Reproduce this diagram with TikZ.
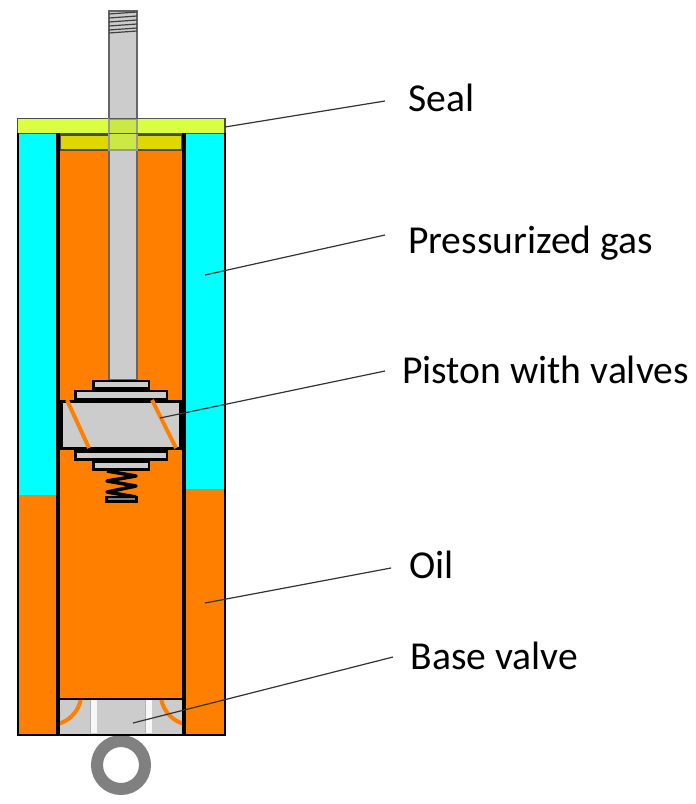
\documentclass[tikz,border=0pt]{standalone}
\usepackage{fontspec}
\setmainfont{Carlito}
\definecolor{oilcolor}{HTML}{FF8000}
\definecolor{gascolor}{HTML}{00FFFF}
\definecolor{sealcolor}{HTML}{D9FF40}
\definecolor{lipcolor}{HTML}{DFD800}
\definecolor{steelcolor}{HTML}{CCCCCC}
\definecolor{rodsealcolor}{HTML}{CBE845}
\definecolor{ringcolor}{HTML}{808080}

\begin{document}
\begin{tikzpicture}[
    x=1pt, y=-1pt, % One unit is one pixel of the reference
    plate/.style={draw=black, line width=2.5pt, fill=steelcolor},
    wall/.style={black, line width=3.5pt},
    leader/.style={black!80, line width=1.2pt},
    callout/.style={anchor=west, inner ysep=0pt, text height=30pt, text depth=6pt, font=\fontsize{39.6}{39.6}\selectfont}
]
\useasboundingbox (0, 0) rectangle (696, 804);

% Define the fluids
\fill[gascolor] (18, 133) rectangle (58, 495);
\fill[gascolor] (184, 133) rectangle (225, 489);
\fill[oilcolor] (18, 495) rectangle (58, 735);
\fill[oilcolor] (184, 489) rectangle (225, 735);
\fill[oilcolor] (59, 150) rectangle (183, 700);

% Define the seals
\filldraw[draw=black!70, line width=1.5pt, fill=sealcolor] (17.5, 118.5) rectangle (225, 133.5);
\filldraw[draw=black!70, line width=1.5pt, fill=lipcolor] (60, 135) rectangle (182, 150);

% Define the rod
\filldraw[draw=black!60, line width=2pt, fill=steelcolor] (109, 11) rectangle (137, 380);
\filldraw[draw=black!40, line width=2pt, fill=rodsealcolor] (109, 118.5) rectangle (137, 150);
\draw[black!75, line width=1.2pt] (109, 14) -- (137, 12);
\draw[black!75, line width=1.2pt] (109, 18) -- (137, 16);
\draw[black!75, line width=1.2pt] (109, 22) -- (137, 20);
\draw[black!75, line width=1.2pt] (109, 26) -- (137, 24);
\draw[black!75, line width=1.2pt] (109, 30) -- (137, 28);
\draw[black!75, line width=1.2pt] (109, 33) -- (137, 31);
\draw[black!65, line width=1.5pt] (109, 118.5) -- (225, 118.5);
\draw[black!65, line width=1.5pt] (109, 133.5) -- (182, 133.5);

% Define the piston
\draw[plate] (93.5, 381) rectangle (149, 388.5);
\draw[plate] (75.5, 391) rectangle (167, 399.5);
\filldraw[draw=black, line width=3pt, fill=steelcolor] (61.5, 401) rectangle (180.5, 448.5);
\draw[plate] (75.5, 451.5) rectangle (167, 459.5);
\draw[plate] (93.5, 462) rectangle (149, 469.5);
\draw[oilcolor, line width=4pt] (67, 400) -- (89, 448);
\draw[oilcolor, line width=4pt] (152, 400) -- (176, 448);
\draw[black, line width=3.5pt, line join=round] (107, 471) -- (136, 476) -- (107, 481) -- (136, 486) -- (107, 492) -- (136, 497);
\filldraw[draw=black, line width=2.5pt, fill=ringcolor] (106.5, 497) rectangle (136.5, 501.5);

% Define the base valve
\fill[steelcolor] (59, 700) rectangle (183, 735);
\fill[white!85!steelcolor] (90, 700) rectangle (97, 733);
\fill[white!85!steelcolor] (145, 700) rectangle (152, 733);
\draw[black!30, line width=1pt] (90, 700) -- (90, 733);
\draw[black!30, line width=1pt] (145, 700) -- (145, 733);
\draw[oilcolor, line width=4pt] (81, 698) .. controls (79, 712) and (68, 722) .. (57, 724);
\draw[oilcolor, line width=4pt] (161, 698) .. controls (163, 712) and (174, 722) .. (185, 724);
\draw[ringcolor, line width=12pt] (121, 765) circle (24);

% Define the walls
\draw[wall] (58, 133) -- (58, 735);
\draw[wall] (184, 133) -- (184, 735);
\draw[black, line width=2pt] (18, 133) -- (18, 735) -- (225, 735) -- (225, 133);
\draw[black, line width=2pt] (58, 698.5) -- (184, 698.5);

% Define the labels
\node[callout, inner xsep=23.5pt] (seal) at (385, 99) {Seal};
\node[callout, inner xsep=23pt] (gas) at (385, 241) {Pressurized gas};
\node[callout, inner xsep=17pt] (piston) at (385, 371) {Piston with valves};
\node[callout, inner xsep=18pt] (oil) at (391, 566) {Oil};
\node[callout, inner xsep=17.5pt] (base) at (393, 657) {Base valve};

\coordinate (sealtip) at (225, 127);
\coordinate (gastip) at (205, 275);
\coordinate (pistontip) at (160, 418);
\coordinate (oiltip) at (205, 603);
\coordinate (basetip) at (133, 723);

% Define the leaders
\draw[leader] (sealtip) -- ([yshift=-2pt]seal.west);
\draw[leader] (gastip) -- ([yshift=6pt]gas.west);
\draw[leader] (pistontip) -- (piston.west);
\draw[leader] (oiltip) -- ([yshift=-2pt]oil.west);
\draw[leader] (basetip) -- (base.west);

\end{tikzpicture}
\end{document}
